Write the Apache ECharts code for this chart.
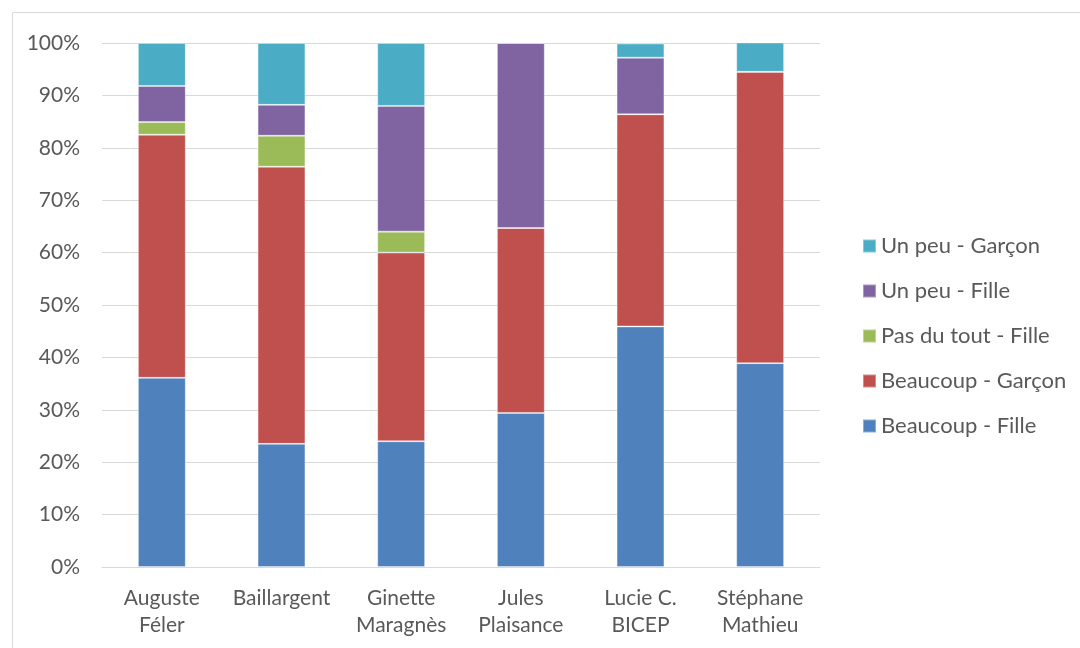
<!DOCTYPE html>
<html>
<head>
<meta charset="utf-8">
<script src="https://cdn.jsdelivr.net/npm/echarts@6/dist/echarts.min.js"></script>
<style>
  html, body { margin: 0; padding: 0; background: #fff; }
  #chart { width: 1080px; height: 648px; }
</style>
</head>
<body>
<div id="chart"></div>
<script>
const categories = ["Auguste\nFéler", "Baillargent", "Ginette\nMaragnès", "Jules\nPlaisance", "Lucie C.\nBICEP", "Stéphane\nMathieu"];
const beaucoupFille = [36.1, 23.5, 24.0, 29.4, 45.9, 38.9];
const beaucoupGarcon = [46.4, 52.9, 36.0, 35.3, 40.5, 55.6];
const pasDuToutFille = [2.4, 5.9, 4.0, 0, 0, 0];
const unPeuFille = [6.9, 5.9, 24.0, 35.3, 10.8, 0];
const unPeuGarcon = [8.2, 11.8, 12.0, 0, 2.7, 5.6];
const yTicks = [0, 10, 20, 30, 40, 50, 60, 70, 80, 90, 100];

const font = "Lato, 'Open Sans', sans-serif";
const chart = echarts.init(document.getElementById("chart"));

function bar(name, data, color) {
  return {
    name, type: "bar", stack: "total", data, barWidth: "40%",
    itemStyle: { color, borderColor: "rgba(255,255,255,0.35)", borderWidth: 1 },
  };
}

chart.setOption({
  animation: false,
  graphic: [{
    type: "rect", left: 10, top: 10,
    shape: { width: 1080, height: 660 },
    style: { fill: "none", stroke: "#d9d9d9", lineWidth: 1 },
  }],
  grid: { left: 102, right: 260, top: 43, bottom: 81 },
  legend: {
    orient: "vertical", left: 857, top: 230, itemGap: 23,
    itemWidth: 13, itemHeight: 13, icon: "rect",
    data: ["Un peu - Garçon", "Un peu - Fille", "Pas du tout - Fille", "Beaucoup - Garçon", "Beaucoup - Fille"],
    textStyle: { fontFamily: font, fontSize: 22, color: "#595959", padding: [0, 0, 0, 0] },
  },
  xAxis: {
    type: "category", data: categories,
    axisLine: { lineStyle: { color: "#d9d9d9", width: 1 } },
    axisTick: { show: false },
    axisLabel: { fontFamily: font, fontSize: 21, color: "#595959", lineHeight: 27, margin: 18, interval: 0 },
  },
  yAxis: {
    type: "value", min: yTicks[0], max: yTicks[yTicks.length - 1], interval: 10,
    axisLine: { show: false }, axisTick: { show: false },
    splitLine: { lineStyle: { color: "#d9d9d9", width: 1 } },
    axisLabel: { fontFamily: font, fontSize: 21, color: "#595959", margin: 22, formatter: "{value}%" },
  },
  series: [
    bar("Beaucoup - Fille", beaucoupFille, "#4F81BD"),
    bar("Beaucoup - Garçon", beaucoupGarcon, "#C0504D"),
    bar("Pas du tout - Fille", pasDuToutFille, "#9BBB59"),
    bar("Un peu - Fille", unPeuFille, "#8064A2"),
    bar("Un peu - Garçon", unPeuGarcon, "#4BACC6"),
  ],
});
</script>
</body>
</html>
